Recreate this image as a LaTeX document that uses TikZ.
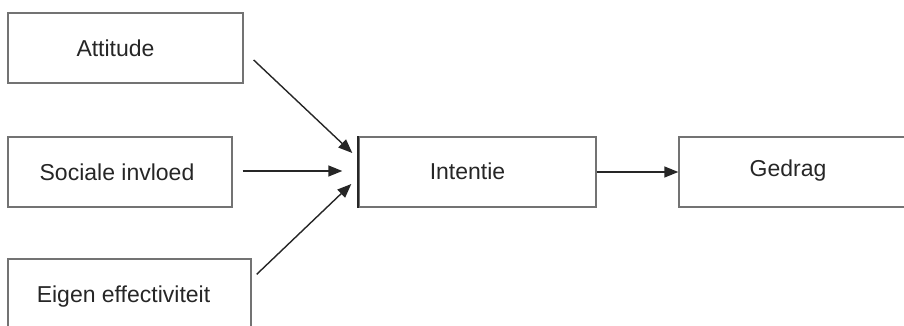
\documentclass[tikz,border=0pt]{standalone}
\usepackage{fontspec}
\setmainfont{Liberation Sans}
\usetikzlibrary{arrows.meta,calc}
\tikzset{
  box/.style={draw=black!55, line width=1.4pt, rectangle, minimum height=70pt, inner sep=0pt},
  lbl/.style={font=\fontsize{23}{26}\selectfont, text=black!85},
  arr/.style={draw=black!85, line width=1.4pt, -{Triangle[length=14pt,width=11pt]}}
}
\begin{document}
\begin{tikzpicture}[x=1pt,y=1pt]
\useasboundingbox (0,0) rectangle (904,325);
\begin{scope}
\clip (0,0) rectangle (904,325);
% factor boxes on the left
\node[box, minimum width=235pt, label={[lbl,xshift=-10pt]center:Attitude}] (att) at (125.5,277) {};
\node[box, minimum width=224pt, label={[lbl,xshift=-3pt]center:Sociale invloed}] (soc) at (120,153) {};
\node[box, minimum width=243pt, label={[lbl,xshift=-6pt,yshift=-3pt]center:Eigen effectiviteit}] (eig) at (129.5,31) {};
% intention and behaviour
\node[box, minimum width=237pt, label={[lbl,xshift=-10pt,yshift=1pt]center:Intentie}] (int) at (477.5,153) {};
\node[box, minimum width=280pt, label={[lbl,xshift=-31pt,yshift=1pt]center:Gedrag}] (ged) at (819,153) {};
\draw[black!85, line width=2pt] (int.north west) -- (int.south west);
% arrow end points
\coordinate (a1) at ($(att.east)+(10,-12)$);
\coordinate (a2) at ($(int.west)+(-6,19)$);
\coordinate (s1) at ($(soc.east)+(10,1)$);
\coordinate (s2) at ($(int.west)+(-16,1)$);
\coordinate (e1) at ($(eig.north east)+(5,-16)$);
\coordinate (e2) at ($(int.west)+(-7,-12)$);
\draw[arr] (a1) -- (a2);
\draw[arr] (s1) -- (s2);
\draw[arr] (e1) -- (e2);
\draw[arr] (int.east) -- (ged.west);
\end{scope}
\end{tikzpicture}
\end{document}
